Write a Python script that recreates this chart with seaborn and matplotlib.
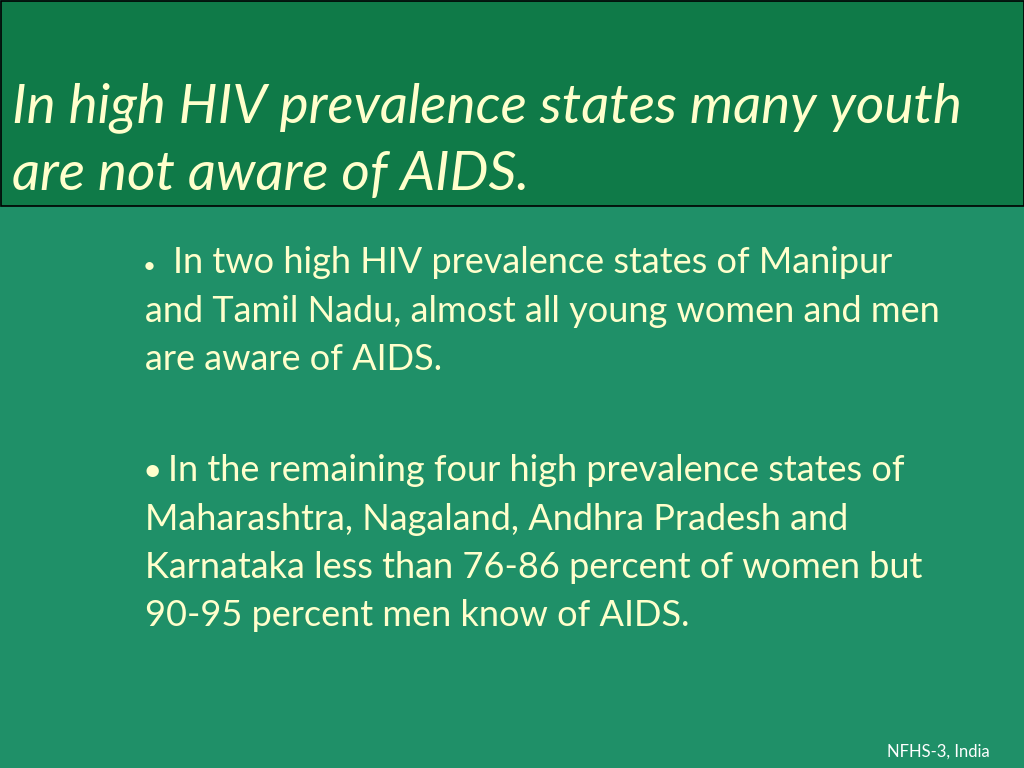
import matplotlib
matplotlib.use("Agg")
import matplotlib.pyplot as plt
import seaborn as sns
from matplotlib.patches import Rectangle

sns.set_theme(style="white")
plt.rcParams['font.family'] = ['Lato', 'DejaVu Sans']

title_lines = ["In high HIV prevalence states many youth", "are not aware of AIDS."]
bullet1 = ["In two high HIV prevalence states of Manipur",
           "and Tamil Nadu, almost all young women and men",
           "are aware of AIDS."]
bullet2 = ["In the remaining four high prevalence states of",
           "Maharashtra, Nagaland, Andhra Pradesh and",
           "Karnataka less than 76-86 percent of women but",
           "90-95 percent men know of AIDS."]
source = "NFHS-3, India"

W, H = 1024, 768
fig = plt.figure(figsize=(10.24, 7.68), dpi=100)
ax = fig.add_axes([0, 0, 1, 1])
ax.set_xlim(0, W)
ax.set_ylim(H, 0)
ax.axis('off')

txt = '#ffffcc'
ax.add_patch(Rectangle((0, 0), W, H, color='#1f9068', zorder=0))
ax.add_patch(Rectangle((0.5, 0.5), W - 1, 205, facecolor='#0f7a48', edgecolor='black', lw=1.2, zorder=1))

for i, line in enumerate(title_lines):
    ax.text(12, 122 + i * 68, line, fontsize=39.5, style='italic', color=txt, va='baseline', ha='left', zorder=2)

def bullet_block(lines, y0, dot_size):
    ax.text(143, y0, '•', fontsize=dot_size, color=txt, va='baseline', zorder=2)
    for i, line in enumerate(lines):
        x = 173 if i == 0 else 145
        if i == 0 and dot_size > 20:
            x = 168
        ax.text(x, y0 + i * 48.5, line, fontsize=26, color=txt, va='baseline', zorder=2)

bullet_block(bullet1, 273, 16)
bullet_block(bullet2, 481, 24)

ax.text(990, 757, source, fontsize=12, color='white', ha='right', va='baseline', zorder=2)

fig.savefig('out.png', dpi=100)
